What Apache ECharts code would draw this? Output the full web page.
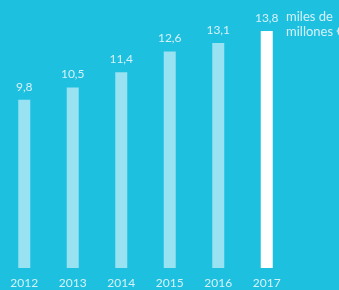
<!DOCTYPE html>
<html><head><meta charset="utf-8">
<script src="https://cdn.jsdelivr.net/npm/echarts@6/dist/echarts.min.js"></script>
<style>html,body{margin:0;padding:0;background:#1ec0e0}#c{width:339px;height:290px}</style>
</head><body><div id="c"></div>
<script>
const categories = ['2012','2013','2014','2015','2016','2017'];
const values = [9.8, 10.5, 11.4, 12.6, 13.1, 13.8];
const unitLines = ['miles de', 'millones €'];

const chart = echarts.init(document.getElementById('c'));
chart.setOption({
  backgroundColor: '#1ec0e0',
  animation: false,
  grid: {left: -2, right: 48, top: 0, bottom: 22},
  xAxis: {
    type: 'category', data: categories,
    axisLine: {show: false}, axisTick: {show: false},
    axisLabel: {color: '#d5f1f8', fontFamily: 'Lato', fontSize: 12, margin: 9}
  },
  yAxis: {type: 'value', min: 0, max: 15.6, show: false, splitLine: {show: false}},
  series: [{
    type: 'bar', barWidth: 12,
    data: values.map((v, i) => ({
      value: v,
      itemStyle: {color: i === values.length - 1 ? '#ffffff' : '#98e2f1'}
    })),
    label: {
      show: true, position: 'top', distance: 7,
      color: '#d5f1f8', fontFamily: 'Lato', fontSize: 12,
      formatter: p => String(p.value).replace('.', ',')
    }
  }],
  graphic: [{
    type: 'text', left: 286, top: 9,
    style: {text: unitLines.join('\n'), fill: '#d5f1f8', font: '13px Lato', lineHeight: 15}
  }]
});
</script></body></html>
